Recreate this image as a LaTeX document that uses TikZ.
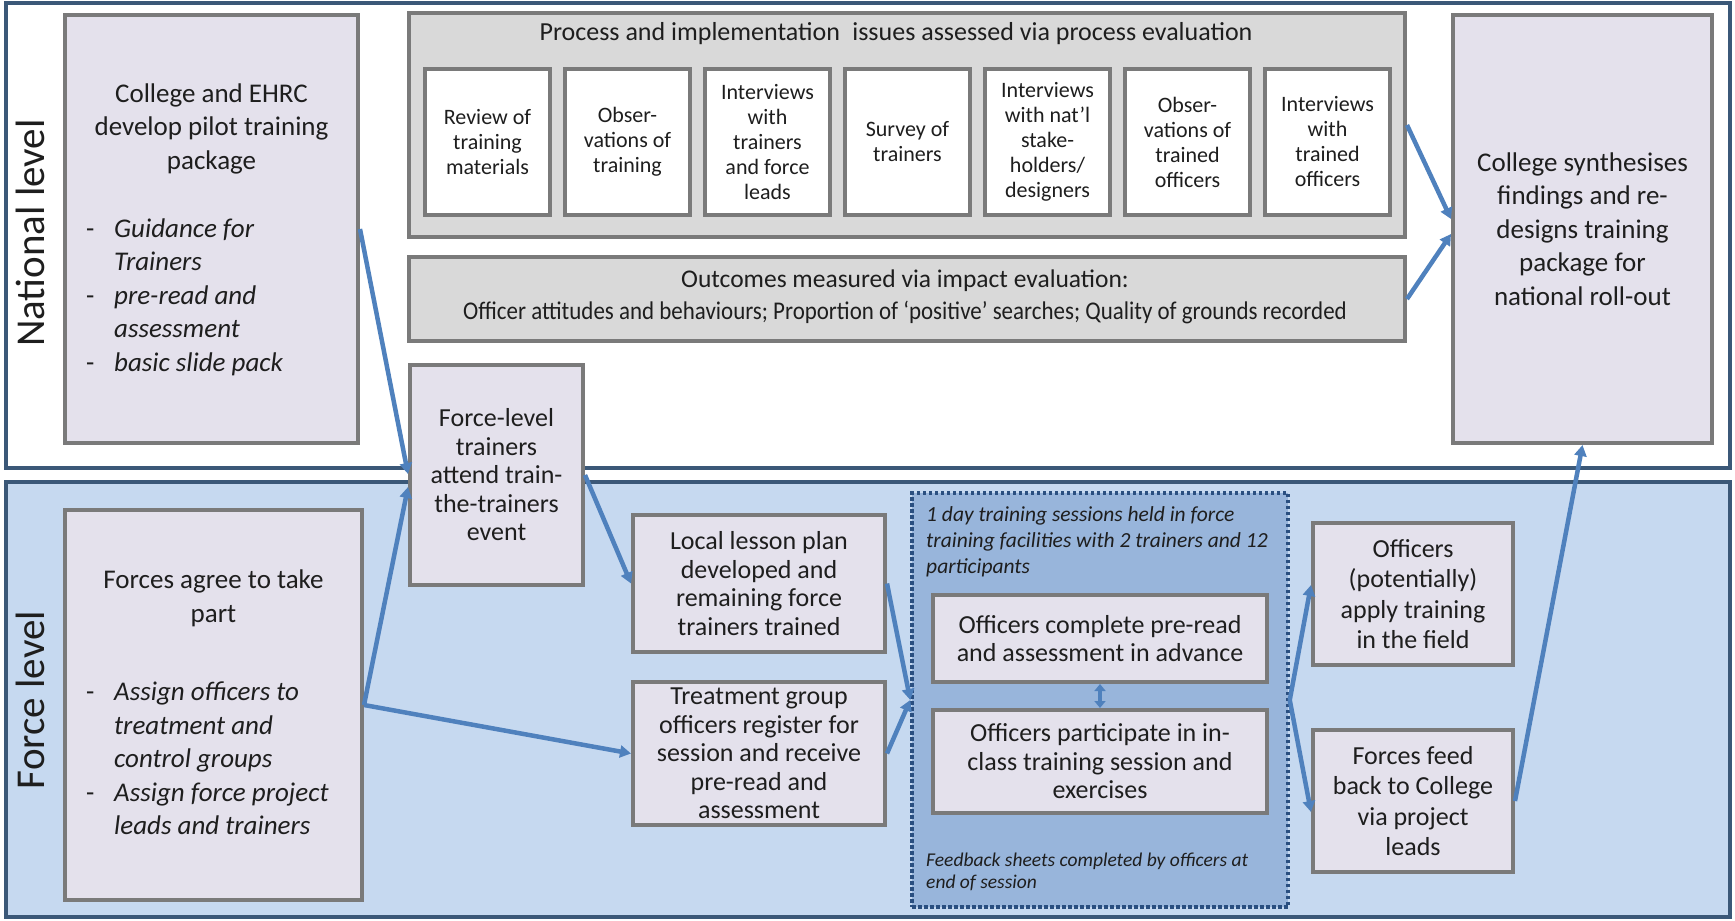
\documentclass[tikz,border=0pt]{standalone}
\usepackage{fontspec}
\setmainfont{Carlito}
\newfontfamily\condfont[FakeStretch=0.9]{Carlito}
\usetikzlibrary{arrows.meta}
\definecolor{bandline}{HTML}{3B5878}
\definecolor{forcefill}{HTML}{C6D9F0}
\definecolor{sessfill}{HTML}{98B5DB}
\definecolor{sessline}{HTML}{2A4F80}
\definecolor{lav}{HTML}{E4E1EC}
\definecolor{boxline}{HTML}{7A7A7A}
\definecolor{procfill}{HTML}{D9D9D9}
\definecolor{arrowc}{HTML}{4F81BD}
\definecolor{txt}{HTML}{1E1E1E}
\tikzset{
  bandN/.style={draw=bandline, line width=3.5pt, fill=white},
  bandF/.style={draw=bandline, line width=3.5pt, fill=forcefill},
  lavbox/.style={draw=boxline, line width=4pt, fill=lav, inner sep=0pt},
  procbox/.style={draw=boxline, line width=4pt, fill=procfill, inner sep=0pt},
  smallbox/.style={draw=boxline, line width=4pt, fill=white, inner sep=0pt},
  sessbox/.style={draw=sessline, line width=3.5pt, fill=sessfill, inner sep=0pt, dash pattern=on 3.5pt off 2.5pt},
  flow/.style={draw=arrowc, line width=4.5pt, -{Triangle[length=11pt,width=12pt]}},
  sidelabel/.style={rotate=90, text=txt, font=\fontsize{41}{41}\selectfont, inner sep=0pt},
  bigtext/.style={text=txt, align=center, inner sep=0pt, font=\fontsize{27}{33.5}\selectfont},
  listtext/.style={text=txt, align=left, inner sep=0pt, font=\fontsize{27}{33.5}\selectfont},
  midtext/.style={text=txt, align=center, inner sep=0pt, font=\fontsize{26}{28.5}\selectfont},
  hitext/.style={text=txt, align=center, inner sep=0pt, font=\fontsize{26}{30.5}\selectfont},
  smalltext/.style={text=txt, align=center, inner sep=0pt, font=\fontsize{22}{25}\selectfont},
  sesstext/.style={text=txt, align=left, inner sep=0pt, font=\fontsize{21.5}{26}\selectfont\itshape},
  sesstextb/.style={text=txt, align=left, inner sep=0pt, font=\fontsize{19.5}{22}\selectfont\itshape}
}
\begin{document}
\begin{tikzpicture}[x=1pt,y=-1pt]
\useasboundingbox (0,0) rectangle (1735,921);
\fill[white] (0,0) rectangle (1735,921);
% bands
\draw[bandN] (6,3) rectangle (1730,468);
\draw[bandF] (6,482) rectangle (1730,917);
\node[sidelabel] (natl) at (30,233) {National level};
\node[sidelabel] (forcel) at (30,700) {Force level};

% national level boxes
\node[lavbox, minimum width=293, minimum height=428] (A) at (211.5,229) {};
\node[bigtext] (Atitle) at (211.5,128.5) {College and EHRC\\develop pilot training\\package};
\node[listtext, anchor=west] (Alist) at (86,297.5) {\begin{tabular}{@{}p{28pt}@{}l@{}}-&\textit{Guidance for}\\&\textit{Trainers}\\-&\textit{pre-read and}\\&\textit{assessment}\\-&\textit{basic slide pack}\end{tabular}};

\node[procbox, minimum width=996, minimum height=224] (P) at (907,125) {};
\node[text=txt, inner sep=0pt, font=\fontsize{26}{30}\selectfont] (Ptitle) at (896,34) {Process and implementation\hspace{0.25em} issues assessed via process evaluation};
\foreach \i/\t in {0/{Review of\\training\\materials},1/{Obser-\\vations of\\training},2/{Interviews\\with\\trainers\\and force\\leads},3/{Survey of\\trainers},4/{Interviews\\with nat’l\\stake-\\holders/\\designers},5/{Obser-\\vations of\\trained\\officers},6/{Interviews\\with\\trained\\officers}}{
  \node[smallbox, minimum width=125, minimum height=146] (sm\i) at ({487.5+140*\i},142) {};
  \node[smalltext] (smt\i) at (sm\i.center) {\t};
}

\node[procbox, minimum width=996, minimum height=84] (O) at (907,299) {};
\node[text=txt, align=center, inner sep=0pt, font=\fontsize{25.5}{32}\selectfont] (Otext) at (905,297) {Outcomes measured via impact evaluation:\\{\condfont Officer attitudes and behaviours; Proportion of ‘positive’ searches; Quality of grounds recorded}};

\node[lavbox, minimum width=259, minimum height=428] (C) at (1582.5,229) {};
\node[bigtext] (Ctext) at (C.center) {College synthesises\\findings and re-\\designs training\\package for\\national roll-out};

% force level boxes
\node[lavbox, minimum width=297, minimum height=390] (J) at (213.5,705) {};
\node[bigtext] (Jtitle) at (213.5,598.5) {Forces agree to take\\part};
\node[listtext, anchor=west] (Jlist) at (86,761) {\begin{tabular}{@{}p{28pt}@{}l@{}}-&\textit{Assign officers to}\\&\textit{treatment and}\\&\textit{control groups}\\-&\textit{Assign force project}\\&\textit{leads and trainers}\end{tabular}};

\node[lavbox, minimum width=173, minimum height=220] (B) at (496.5,475) {};
\node[midtext] (Btext) at (B.center) {Force-level\\trainers\\attend train-\\the-trainers\\event};

\node[lavbox, minimum width=252, minimum height=137] (D) at (759,583.5) {};
\node[midtext] (Dtext) at (D.center) {Local lesson plan\\developed and\\remaining force\\trainers trained};

\node[lavbox, minimum width=252, minimum height=143] (E) at (759,753.5) {};
\node[midtext] (Etext) at (E.center) {Treatment group\\officers register for\\session and receive\\pre-read and\\assessment};

\node[sessbox, minimum width=376, minimum height=414] (S) at (1100,700) {};
\node[sesstext, anchor=west] (Stop) at (926,542) {1 day training sessions held in force\\training facilities with 2 trainers and 12\\participants};
\node[sesstextb, anchor=west] (Sbot) at (926,872) {Feedback sheets completed by officers at\\end of session};

\node[lavbox, minimum width=334, minimum height=87] (F) at (1100,638.5) {};
\node[midtext] (Ftext) at (F.center) {Officers complete pre-read\\and assessment in advance};
\node[lavbox, minimum width=334, minimum height=103] (G) at (1100,761.5) {};
\node[midtext] (Gtext) at (G.center) {Officers participate in in-\\class training session and\\exercises};

\node[lavbox, minimum width=200, minimum height=142] (H) at (1413,594) {};
\node[hitext] (Htext) at (H.center) {Officers\\(potentially)\\apply training\\in the field};
\node[lavbox, minimum width=200, minimum height=142] (I) at (1413,801) {};
\node[hitext] (Itext) at (I.center) {Forces feed\\back to College\\via project\\leads};

% connectors
\draw[flow] (A.east) -- ([yshift=1pt]B.west);
\draw[flow] (J.east) -- ([yshift=-12pt]B.west);
\draw[flow] (J.east) -- (E.west);
\draw[flow] (B.east) -- (D.west);
\draw[flow] (D.east) -- (S.west);
\draw[flow] (E.east) -- (S.west);
\draw[draw=arrowc, line width=4.5pt, {Triangle[length=7pt,width=11pt]}-{Triangle[length=7pt,width=11pt]}] (F.south) -- (G.north);
\draw[flow] (S.east) -- ([yshift=9pt]H.west);
\draw[flow] (S.east) -- ([yshift=-11pt]I.west);
\draw[flow] (I.east) -- (C.south);
\draw[flow] (P.east) -- ([yshift=10pt]C.west);
\draw[flow] (O.east) -- ([yshift=-5pt]C.west);
\end{tikzpicture}
\end{document}
